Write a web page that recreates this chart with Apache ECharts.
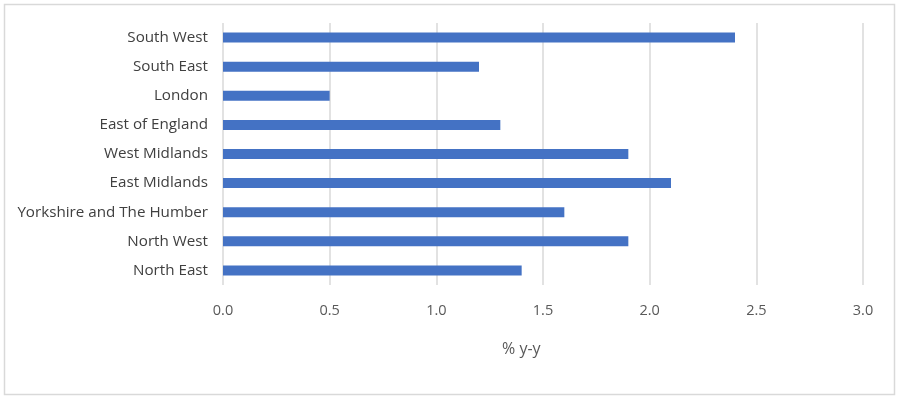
<!DOCTYPE html>
<html><head><meta charset="utf-8">
<script src="https://cdn.jsdelivr.net/npm/echarts@6/dist/echarts.min.js"></script>
<style>html,body{margin:0;padding:0;background:#fff}#c{width:900px;height:399px}</style>
</head><body><div id="c"></div>
<script>
const categories = ["North East","North West","Yorkshire and The Humber","East Midlands","West Midlands","East of England","London","South East","South West"];
const values = [1.4, 1.9, 1.6, 2.1, 1.9, 1.3, 0.5, 1.2, 2.4];
const axisName = "% y-y";
const chart = echarts.init(document.getElementById('c'));
const font = '"Open Sans", "Noto Sans", sans-serif';
chart.setOption({
  animation: false,
  grid: {left: 223, right: 37, top: 23, bottom: 114},
  graphic: [
    {type:'rect', shape:{x:4.5,y:4.5,width:890,height:390}, style:{fill:'none', stroke:'#d9d9d9', lineWidth:1.5}, silent:true},
    {type:'text', left: 502, top: 341, style:{text: axisName, fontFamily: font, fontSize: 16, fill:'#595959'}}
  ],
  xAxis: {
    type: 'value', min: 0, max: 3, interval: 0.5,
    axisLine: {show:false}, axisTick:{show:false},
    splitLine: {lineStyle:{color:'#d9d9d9', width:1.5}},
    axisLabel: {formatter: v => v.toFixed(1), color:'#595959', fontFamily: font, fontSize: 14.5, margin: 18}
  },
  yAxis: {
    type: 'category', data: categories,
    axisLine: {show:false}, axisTick:{show:false},
    axisLabel: {color:'#404040', fontFamily: font, fontSize: 15.2, margin: 15}
  },
  series: [{
    type: 'bar', data: values, barWidth: 10,
    itemStyle: {color:'#4472c4'}
  }]
});
</script></body></html>
